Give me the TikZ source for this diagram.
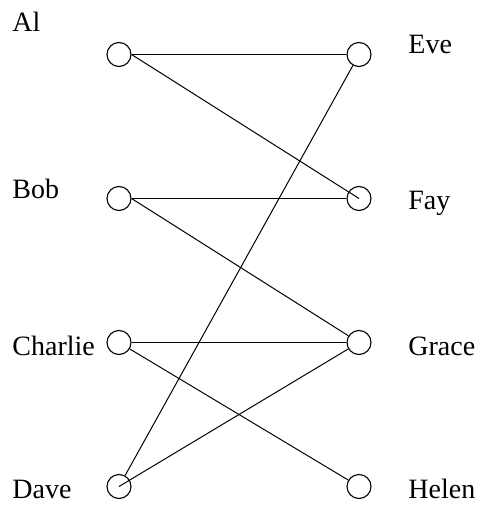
\documentclass[tikz,border=0pt]{standalone}
\usepackage{fontspec}
\setmainfont{Liberation Serif}
\begin{document}
\begin{tikzpicture}[x=0.5pt,y=-0.5pt,
  vertex/.style={circle,draw,line width=0.55pt,minimum size=12pt,inner sep=0pt},
  nametext/.style={anchor=base west,inner sep=0pt,font=\fontsize{14}{16}\selectfont},
  edge/.style={line width=0.5pt}]
\useasboundingbox (0,0) rectangle (479,508);
% left column
\node[vertex] (al) at (119,54.5) {};
\node[vertex] (bob) at (119,198.5) {};
\node[vertex] (charlie) at (119,342.5) {};
\node[vertex] (dave) at (119,486.5) {};
% right column
\node[vertex] (eve) at (359,54.5) {};
\node[vertex] (fay) at (359,198.5) {};
\node[vertex] (grace) at (359,342.5) {};
\node[vertex] (helen) at (359,486.5) {};
% names
\node[nametext] (alname) at (12,32) {Al};
\node[nametext] (bobname) at (12,198) {Bob};
\node[nametext] (charliename) at (12,355) {Charlie};
\node[nametext] (davename) at (12,498) {Dave};
\node[nametext] (evename) at (408,54) {Eve};
\node[nametext] (fayname) at (408,209) {Fay};
\node[nametext] (gracename) at (408,355) {Grace};
\node[nametext] (helenname) at (408,498) {Helen};
% edges
\draw[edge] (al.east) -- (eve.west);
\draw[edge] (al.east) -- (fay.center);
\draw[edge] (bob.east) -- (fay.west);
\draw[edge] (bob.east) -- (grace);
\draw[edge] (charlie.east) -- (grace.west);
\draw[edge] (charlie) -- (helen);
\draw[edge] (dave) -- (eve);
\draw[edge] (dave.center) -- (grace);
\end{tikzpicture}
\end{document}
